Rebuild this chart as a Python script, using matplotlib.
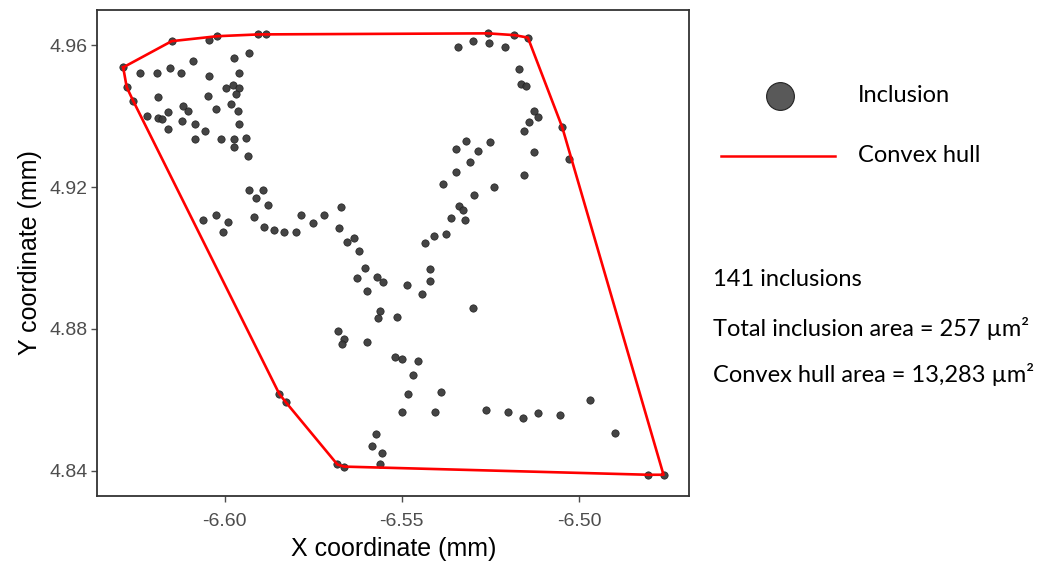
import numpy as np
import matplotlib.pyplot as plt
from matplotlib.lines import Line2D

# inclusion centres (mm)
x_mm = [
    -6.6287, -6.6277, -6.6259, -6.6240, -6.6192, -6.6155, -6.6124, -6.6089, -6.6150, -6.6044,
    -6.6021, -6.5905, -6.5885, -6.5973, -6.5931, -6.6044, -6.5959, -6.6188, -6.6048, -6.5997,
    -6.5978, -6.5959, -6.5968, -6.6117, -6.6103, -6.6160, -6.6221, -6.6188, -6.6178, -6.6025,
    -6.5983, -6.5964, -6.6122, -6.6084, -6.6160, -6.6056, -6.5959, -6.6084, -6.6011, -6.5973,
    -6.5940, -6.5973, -6.5935,
    -6.5931, -6.5891, -6.5912, -6.5879, -6.6062, -6.6025, -6.5991, -6.6006, -6.5917, -6.5888,
    -6.5860, -6.5832, -6.5799, -6.5785, -6.5752, -6.5719, -6.5672, -6.5677, -6.5655, -6.5635,
    -6.5621,
    -6.5603, -6.5626, -6.5570, -6.5552, -6.5598, -6.5562, -6.5566, -6.5515, -6.5679, -6.5663,
    -6.5668, -6.5599, -6.5519, -6.5500, -6.5454, -6.5468, -6.5482, -6.5388, -6.5500, -6.5406,
    -6.5574, -6.5585, -6.5556, -6.5562,
    -6.5846, -6.5827, -6.5682, -6.5663,
    -6.5486, -6.5444, -6.5420, -6.5420, -6.5436, -6.5408, -6.5374, -6.5360, -6.5338, -6.5327,
    -6.5322, -6.5384, -6.5347, -6.5308, -6.5347, -6.5319, -6.5285, -6.5252, -6.5295, -6.5239,
    -6.5300,
    -6.5257, -6.5182, -6.5144, -6.5342, -6.5300, -6.5253, -6.5210, -6.5168, -6.5163, -6.5149,
    -6.5126, -6.5116, -6.5140, -6.5154, -6.5047, -6.5028, -6.5126, -6.5154,
    -6.5262, -6.5201, -6.5158, -6.5116, -6.5052, -6.4968, -6.4897, -6.4804, -6.4761,
]
y_mm = [
    4.9538, 4.9482, 4.9444, 4.9523, 4.9523, 4.9537, 4.9523, 4.9557, 4.9612, 4.9615,
    4.9626, 4.9631, 4.9631, 4.9565, 4.9579, 4.9514, 4.9523, 4.9453, 4.9458, 4.9479,
    4.9488, 4.9479, 4.9462, 4.9430, 4.9415, 4.9411, 4.9401, 4.9396, 4.9391, 4.9420,
    4.9434, 4.9415, 4.9386, 4.9378, 4.9364, 4.9359, 4.9378, 4.9336, 4.9336, 4.9336,
    4.9340, 4.9312, 4.9289,
    4.9192, 4.9192, 4.9168, 4.9149, 4.9107, 4.9121, 4.9102, 4.9074, 4.9116, 4.9088,
    4.9079, 4.9074, 4.9074, 4.9121, 4.9098, 4.9121, 4.9145, 4.9084, 4.9046, 4.9056,
    4.9019,
    4.8972, 4.8944, 4.8945, 4.8931, 4.8907, 4.8850, 4.8831, 4.8832, 4.8794, 4.8771,
    4.8757, 4.8762, 4.8719, 4.8715, 4.8710, 4.8669, 4.8617, 4.8621, 4.8566, 4.8566,
    4.8502, 4.8469, 4.8450, 4.8418,
    4.8616, 4.8592, 4.8417, 4.8411,
    4.8925, 4.8897, 4.8968, 4.8935, 4.9041, 4.9062, 4.9069, 4.9112, 4.9146, 4.9135,
    4.9107, 4.9209, 4.9242, 4.9270, 4.9307, 4.9331, 4.9303, 4.9326, 4.9177, 4.9200,
    4.8860,
    4.9634, 4.9629, 4.9622, 4.9596, 4.9612, 4.9606, 4.9596, 4.9532, 4.9490, 4.9485,
    4.9415, 4.9397, 4.9383, 4.9359, 4.9369, 4.9279, 4.9298, 4.9233,
    4.8571, 4.8566, 4.8547, 4.8561, 4.8557, 4.8598, 4.8506, 4.8388, 4.8388,
]

x_ticks = [-6.60, -6.55, -6.50]
y_ticks = [4.84, 4.88, 4.92, 4.96]

n_inclusions = 141
inclusion_area = 257
hull_area = 13283


def convex_hull(pts):
    # monotone chain
    pts = sorted(set(pts))

    def cross(o, a, b):
        return (a[0] - o[0]) * (b[1] - o[1]) - (a[1] - o[1]) * (b[0] - o[0])

    lower, upper = [], []
    for p in pts:
        while len(lower) >= 2 and cross(lower[-2], lower[-1], p) <= 0:
            lower.pop()
        lower.append(p)
    for p in reversed(pts):
        while len(upper) >= 2 and cross(upper[-2], upper[-1], p) <= 0:
            upper.pop()
        upper.append(p)
    return lower[:-1] + upper[:-1]


hull = convex_hull(list(zip(x_mm, y_mm)))
hull = np.array(hull + [hull[0]])

fig = plt.figure(figsize=(10.41, 5.67), dpi=100)
ax = fig.add_axes([0.0935, 0.1252, 0.5687, 0.8572])

ax.scatter(x_mm, y_mm, s=28, facecolor='#3a3a3a', edgecolor='#1e1e1e',
           linewidths=0.5, alpha=0.95, zorder=2)
ax.plot(hull[:, 0], hull[:, 1], color='red', lw=1.9, zorder=3)

ax.set_xlim(-6.6360, -6.4688)
ax.set_ylim(4.8328, 4.9700)
ax.set_xticks(x_ticks)
ax.set_xticklabels([f'{v:.2f}' for v in x_ticks])
ax.set_yticks(y_ticks)
ax.set_yticklabels([f'{v:.2f}' for v in y_ticks])

for lab in ax.get_xticklabels() + ax.get_yticklabels():
    lab.set_fontfamily('Liberation Sans')
    lab.set_fontsize(14)
ax.tick_params(colors='#4d4d4d', length=4, width=1.0, labelcolor='#4d4d4d', pad=3)
ax.tick_params(axis='x', pad=8)
for sp in ax.spines.values():
    sp.set_color('#333333')
    sp.set_linewidth(1.3)

ax.set_xlabel('X coordinate (mm)', fontfamily='Liberation Sans', fontsize=18, labelpad=5)
ax.set_ylabel('Y coordinate (mm)', fontfamily='Liberation Sans', fontsize=18, labelpad=5)

# legend and summary on the right, in figure pixels
W, H = 1041, 567
side_font = 'Lato'
fig.add_artist(Line2D([780 / W], [1 - 96 / H], marker='o', markersize=20,
                      markerfacecolor='#595959', markeredgecolor='#222222',
                      markeredgewidth=0.8, linestyle='none'))
fig.add_artist(Line2D([721 / W, 835 / W], [1 - 156 / H, 1 - 156 / H],
                      color='red', lw=1.8))
fig.text(858 / W, 1 - 95 / H, 'Inclusion', fontfamily=side_font, fontsize=17, va='center')
fig.text(858 / W, 1 - 156 / H, 'Convex hull', fontfamily=side_font, fontsize=17, va='center')

fig.text(713 / W, 1 - 280 / H, f'{n_inclusions} inclusions',
         fontfamily=side_font, fontsize=17, va='center')
fig.text(713 / W, 1 - 329 / H, f'Total inclusion area = {inclusion_area} µm²',
         fontfamily=side_font, fontsize=17, va='center')
fig.text(713 / W, 1 - 375 / H, f'Convex hull area = {hull_area:,} µm²',
         fontfamily=side_font, fontsize=17, va='center')

fig.savefig('out.png', dpi=100)
